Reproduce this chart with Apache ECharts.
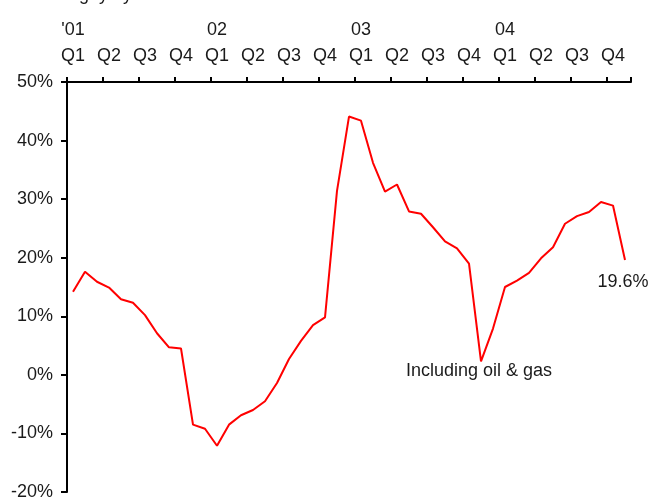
<!DOCTYPE html>
<html>
<head>
<meta charset="utf-8">
<script src="https://cdn.jsdelivr.net/npm/echarts@6/dist/echarts.min.js"></script>
<style>
html,body{margin:0;padding:0;background:#fff;}
#chart{width:649px;height:501px;}
</style>
</head>
<body>
<div id="chart"></div>
<script>
// Monthly categories, Jan 2001 .. Nov 2004
const months = [
  'Jan 01','Feb 01','Mar 01','Apr 01','May 01','Jun 01','Jul 01','Aug 01','Sep 01','Oct 01','Nov 01','Dec 01',
  'Jan 02','Feb 02','Mar 02','Apr 02','May 02','Jun 02','Jul 02','Aug 02','Sep 02','Oct 02','Nov 02','Dec 02',
  'Jan 03','Feb 03','Mar 03','Apr 03','May 03','Jun 03','Jul 03','Aug 03','Sep 03','Oct 03','Nov 03','Dec 03',
  'Jan 04','Feb 04','Mar 04','Apr 04','May 04','Jun 04','Jul 04','Aug 04','Sep 04','Oct 04','Nov 04'
];
// Year-over-year change (%)
const values = [
  14.2, 17.6, 15.9, 14.9, 12.9, 12.3, 10.2, 7.1, 4.7, 4.5, -8.5, -9.2,
  -12.1, -8.5, -6.9, -6.0, -4.5, -1.4, 2.7, 5.8, 8.5, 9.8, 31.4, 44.1,
  43.4, 36.2, 31.3, 32.5, 27.9, 27.5, 25.2, 22.8, 21.6, 19.0, 2.3, 7.9,
  15.0, 16.1, 17.4, 19.9, 21.8, 25.8, 27.1, 27.8, 29.5, 28.9, 19.6
];
const yearLabels = ["'01", '02', '03', '04'];
const quarterLabels = ['Q1', 'Q2', 'Q3', 'Q4'];
const titleText = 'Chg. y / y';
const troughLabel = 'Including oil & gas';
const troughIndex = 34;
const lastLabel = '19.6%';

const font = 'Liberation Sans, Arial, sans-serif';
const txt = '#1a1a1a';

const seriesData = values.map((v, i) => {
  if (i === troughIndex) {
    return { value: v, label: { show: true, position: 'bottom', distance: -3, offset: [-2, 4], formatter: troughLabel } };
  }
  if (i === values.length - 1) {
    return { value: v, label: { show: true, position: 'bottom', distance: 11, offset: [-2, 2], formatter: lastLabel } };
  }
  return v;
});

const chart = echarts.init(document.getElementById('chart'), null, { renderer: 'canvas' });
chart.setOption({
  animation: false,
  backgroundColor: '#ffffff',
  textStyle: { fontFamily: font },
  graphic: [{
    type: 'text', left: 56, top: -14,
    style: { text: titleText, font: '18px ' + font, fill: txt }
  }],
  grid: { left: 67, right: 18, top: 82, bottom: 6, containLabel: false },
  xAxis: {
    type: 'category',
    position: 'top',
    data: months,
    boundaryGap: true,
    axisLine: { onZero: false, lineStyle: { color: '#000', width: 2 } },
    axisTick: { show: true, interval: 2, length: 5, inside: false, lineStyle: { color: '#000', width: 2 } },
    axisLabel: {
      interval: 2,
      margin: 13,
      color: txt,
      fontSize: 18,
      fontFamily: font,
      lineHeight: 26,
      formatter: function (val, idx) {
        const q = Math.floor(idx / 3) % 4;
        const y = Math.floor(idx / 12);
        if (q === 0) return yearLabels[y] + '\n' + quarterLabels[q];
        return quarterLabels[q];
      }
    },
    splitLine: { show: false }
  },
  yAxis: {
    type: 'value',
    min: -20, max: 50, interval: 10,
    axisLine: { show: true, lineStyle: { color: '#000', width: 2 } },
    axisTick: { show: true, length: 6, lineStyle: { color: '#000', width: 2 } },
    axisLabel: { color: txt, fontSize: 18, fontFamily: font, margin: 14, formatter: '{value}%' },
    splitLine: { show: false }
  },
  series: [{
    type: 'line',
    data: seriesData,
    showSymbol: true,
    showAllSymbol: true,
    symbol: 'circle',
    symbolSize: 0.01,
    smooth: false,
    lineStyle: { color: '#ff0000', width: 2 },
    itemStyle: { color: '#ff0000' },
    label: { show: false, color: txt, fontSize: 18, fontFamily: font },
    emphasis: { disabled: true }
  }]
});
</script>
</body>
</html>
